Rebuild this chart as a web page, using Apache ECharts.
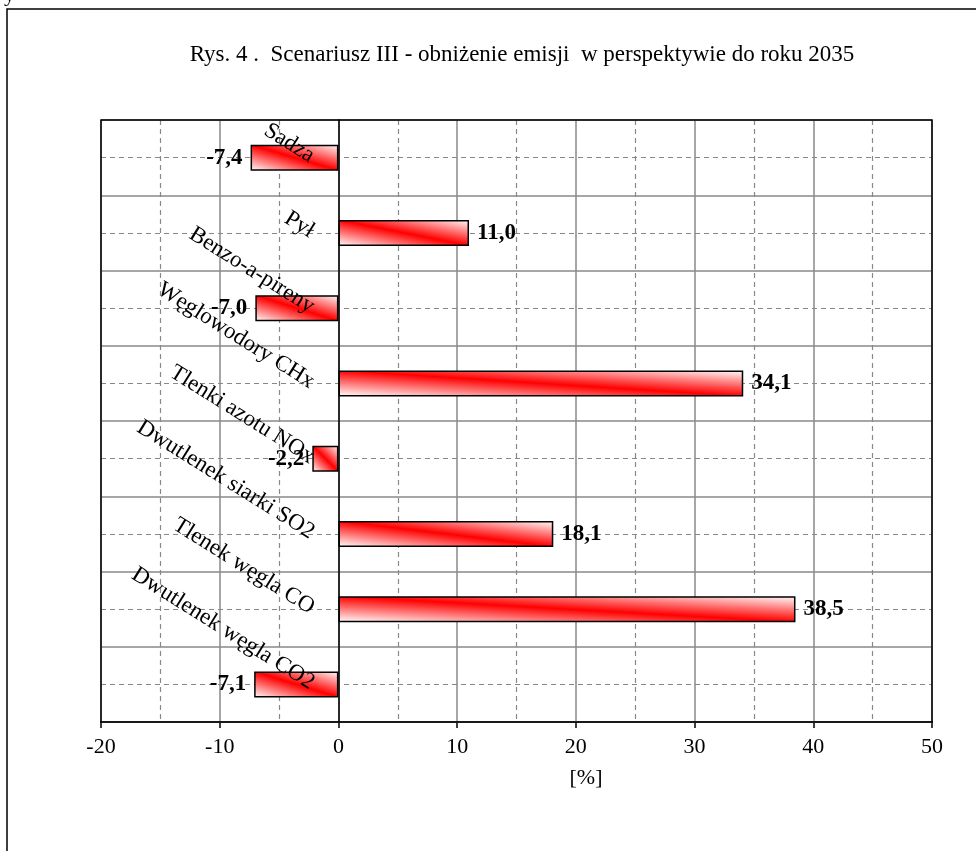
<!DOCTYPE html>
<html>
<head>
<meta charset="utf-8">
<script src="https://cdn.jsdelivr.net/npm/echarts@6/dist/echarts.min.js"></script>
<style>
  html, body { margin: 0; padding: 0; background: #fff; }
  #chart { width: 976px; height: 851px; }
</style>
</head>
<body>
<div id="chart"></div>
<script>
// kategorie od dołu do góry
const categories = [
  'Dwutlenek węgla CO2',
  'Tlenek węgla CO',
  'Dwutlenek siarki SO2',
  'Tlenki azotu NOx',
  'Węglowodory CHx',
  'Benzo-a-pireny',
  'Pył',
  'Sadza'
];
const values = [-7.1, 38.5, 18.1, -2.2, 34.1, -7.0, 11.0, -7.4];
const xTicks = { min: -20, max: 50, interval: 10 };

const FONT = '"Liberation Serif", "DejaVu Serif", serif';
const W_CHART = 976, H_CHART = 851;
const GRID = { left: 101, right: 44, top: 120, bottom: 129 };
const BAR_H = 26;
const pxPerUnit = (W_CHART - GRID.left - GRID.right) / (xTicks.max - xTicks.min);
// etykiety kategorii mają stać przy osi zero, nie przy lewej krawędzi
const labelMargin = 26 - (0 - xTicks.min) * pxPerUnit;

// gradient: czerwony pas po przekątnej, białe narożniki
function barGradient(v) {
  const W = Math.abs(v) * pxPerUnit, H = BAR_H;
  const D = W * W + H * H;
  return {
    type: 'linear',
    x: 0.5 - (H * H) / D,
    y: 0.5 + (W * W) / D,
    x2: 0.5 + (H * H) / D,
    y2: 0.5 - (W * W) / D,
    colorStops: [
      { offset: 0, color: '#ffffff' },
      { offset: 0.5, color: '#ff0000' },
      { offset: 1, color: '#ffffff' }
    ],
    global: false
  };
}

const chart = echarts.init(document.getElementById('chart'));
chart.setOption({
  animation: false,
  backgroundColor: '#fff',
  grid: Object.assign({ show: false, containLabel: false, outerBoundsMode: 'none' }, GRID),
  graphic: [
    { type: 'rect', shape: { x: 7, y: 9, width: 1100, height: 1000 }, style: { fill: null, stroke: '#000', lineWidth: 1.5 }, z: -10 },
    // czarna ramka obszaru wykresu
    {
      type: 'rect', z: 20, silent: true,
      shape: { x: GRID.left, y: GRID.top, width: W_CHART - GRID.left - GRID.right, height: H_CHART - GRID.top - GRID.bottom },
      style: { fill: null, stroke: '#000', lineWidth: 1.5 }
    },
    { type: 'text', x: 4, y: -16, style: { text: 'y', font: '22px ' + FONT, fill: '#000' } },
    { type: 'text', x: 522, y: 55, style: { text: 'Rys. 4 .  Scenariusz III - obniżenie emisji  w perspektywie do roku 2035', font: '23px ' + FONT, fill: '#000', align: 'center', verticalAlign: 'middle' } },
    { type: 'text', x: 586, y: 778, style: { text: '[%]', font: '22px ' + FONT, fill: '#000', align: 'center', verticalAlign: 'middle' } }
  ],
  xAxis: {
    type: 'value',
    min: xTicks.min,
    max: xTicks.max,
    interval: xTicks.interval,
    z: 0,
    axisLine: { show: true, onZero: false, lineStyle: { color: '#000', width: 2 } },
    axisTick: { show: true, length: 6, lineStyle: { color: '#000', width: 1.5 } },
    axisLabel: { color: '#000', fontFamily: FONT, fontSize: 22, margin: 14 },
    splitLine: { show: true, lineStyle: { color: '#888', width: 1.5 } },
    minorTick: { show: false, splitNumber: 2 },
    minorSplitLine: { show: true, lineStyle: { color: '#888', type: [5, 4], width: 1.2 } }
  },
  yAxis: [
    {
      type: 'category',
      data: categories,
      z: 10,
      axisLine: { show: true, onZero: true, lineStyle: { color: '#000', width: 1.5 } },
      axisTick: { show: false },
      axisLabel: { interval: 0, rotate: -32, margin: labelMargin, color: '#000', fontFamily: FONT, fontSize: 23 },
      splitLine: { show: true, lineStyle: { color: '#888', width: 1.5 } }
    },
    {
      // pomocnicza oś: przerywane linie w środkach kategorii
      type: 'value',
      min: 0,
      max: categories.length,
      interval: 1,
      show: true,
      z: 0,
      axisLine: { show: false },
      axisTick: { show: false },
      axisLabel: { show: false },
      splitLine: { show: false },
      minorTick: { show: false, splitNumber: 2 },
      minorSplitLine: { show: true, lineStyle: { color: '#888', type: [5, 4], width: 1.2 } }
    }
  ],
  series: [
    {
      type: 'bar',
      yAxisIndex: 0,
      barWidth: BAR_H,
      z: 5,
      data: values.map(function (v) {
        return {
          value: v,
          itemStyle: { color: barGradient(v), borderColor: '#000', borderWidth: 1.5 },
          label: { position: v < 0 ? 'left' : 'right' }
        };
      }),
      label: {
        show: true,
        distance: 8,
        color: '#000',
        fontFamily: FONT,
        fontWeight: 'bold',
        fontSize: 23,
        formatter: function (p) { return p.value.toFixed(1).replace('.', ','); }
      }
    }
  ]
});
</script>
</body>
</html>
